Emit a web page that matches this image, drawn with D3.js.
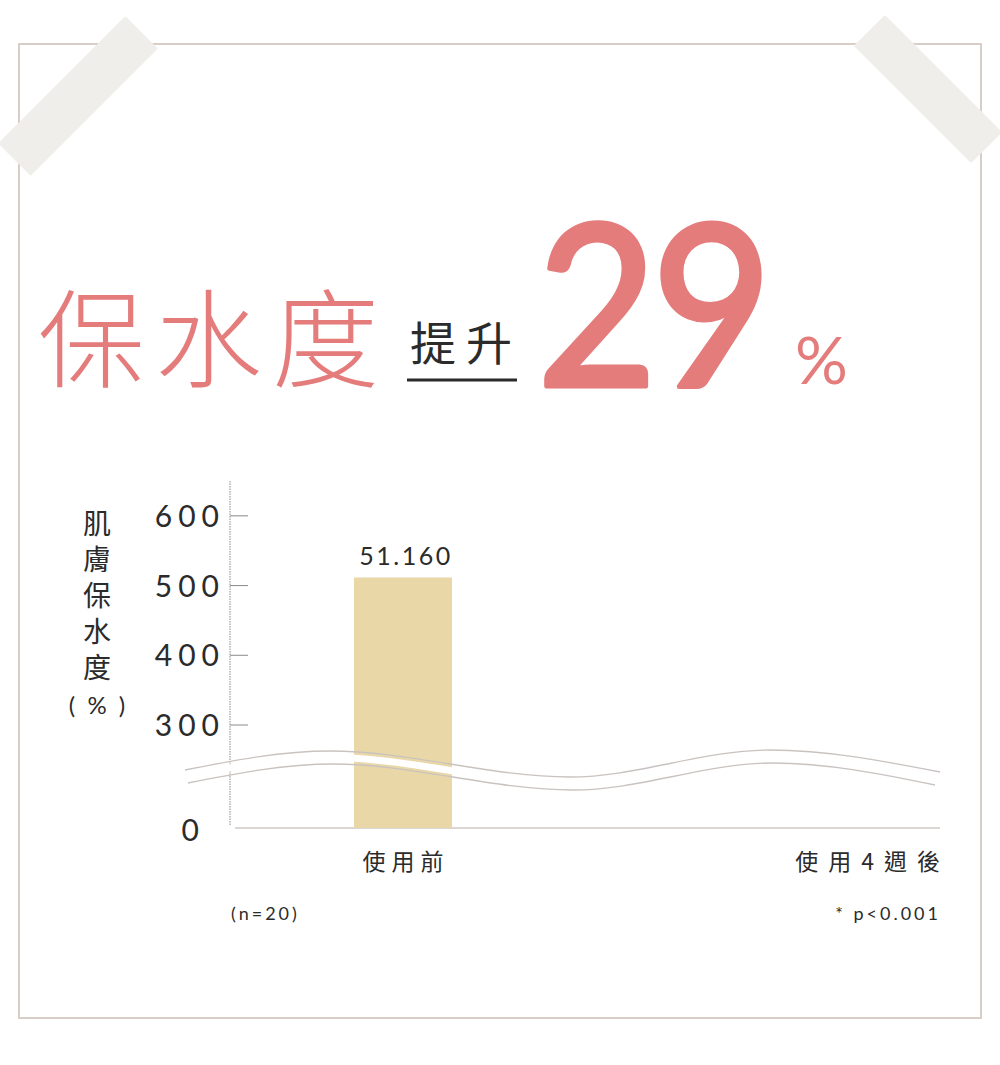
<!DOCTYPE html>
<html><head><meta charset="utf-8">
<script src="https://cdn.jsdelivr.net/npm/d3@7"></script>
<style>
html,body{margin:0;padding:0;background:#fff;}
svg{display:block;}
</style></head>
<body>
<svg id="c" width="1000" height="1065"></svg>
<script>
// ---- data ----
const categories = ["使用前", "使用4週後"];
const values = [511.6, null];
const valueLabels = ["51.160", ""];
const yTicks = [300, 400, 500, 600];
const yTickLabels = ["300", "400", "500", "600"];
const zeroLabel = "0";
const titleMain = "保水度";
const titleSub = "提升";
const titleNum = "29";
const titleUnit = "%";
const yTitle = "肌膚保水度";
const yTitleUnit = ["(", "%", ")"];
const noteLeft = "(n=20)";
const noteRight = "* p<0.001";

const svg = d3.select("#c");
const CJK = "'Noto Sans CJK TC','Noto Sans CJK JP',sans-serif";
const NUM = "Lato,'Noto Sans',sans-serif";
const pink = "#e57c7c";
const ink = "#2b2b2b";

// frame
svg.append("rect").attr("x",19).attr("y",44).attr("width",962).attr("height",974)
  .attr("fill","#fff").attr("stroke","#d9cdc7").attr("stroke-width",2);

// tapes
function tape(cx, cy, len, wid, angle){
  svg.append("rect").attr("x",-len/2).attr("y",-wid/2).attr("width",len).attr("height",wid)
    .attr("fill","#efeeea").attr("rx",2)
    .attr("transform",`translate(${cx},${cy}) rotate(${angle})`);
}
tape(78, 96, 180, 46, -45);
tape(928, 89, 166, 44, 45);

// title
svg.append("text").attr("x",38).attr("y",379).attr("font-family",CJK).attr("font-weight",300)
  .attr("font-size",107).attr("fill",pink).attr("letter-spacing",10).text(titleMain);
svg.append("text").attr("x",410).attr("y",360).attr("font-family",CJK).attr("font-weight",400)
  .attr("font-size",46).attr("fill",ink).attr("letter-spacing",10).text(titleSub);
svg.append("line").attr("x1",407).attr("x2",517).attr("y1",380).attr("y2",380)
  .attr("stroke",ink).attr("stroke-width",3);
svg.append("text").attr("x",-9).attr("y",0).attr("font-family",NUM).attr("font-weight",400)
  .attr("font-size",226).attr("fill",pink).attr("stroke",pink).attr("stroke-width",5)
  .attr("stroke-linejoin","round").attr("letter-spacing",-6)
  .attr("transform","translate(545,386) scale(0.92,1)").text(titleNum);
svg.append("text").attr("x",795).attr("y",384).attr("font-family",NUM).attr("font-weight",400)
  .attr("font-size",66).attr("fill",pink).text(titleUnit);

// scales
const y = d3.scaleLinear().domain([0, 300, 650]).range([828, 725, 481]);
const x = d3.scalePoint().domain(categories).range([403, 866]);
const barW = 98;
const axisX = 230;

// y axis line
svg.append("line").attr("x1",axisX).attr("x2",axisX).attr("y1",y(650)).attr("y2",y(0)-2)
  .attr("stroke","#8a8a8a").attr("stroke-width",1).attr("stroke-dasharray","1.5,1");
// x axis line
svg.append("line").attr("x1",235).attr("x2",940).attr("y1",y(0)).attr("y2",y(0))
  .attr("stroke","#b5aeaa").attr("stroke-width",1.2);

// ticks
svg.selectAll(".tk").data(yTicks).enter().append("line")
  .attr("x1",axisX).attr("x2",axisX+18).attr("y1",d=>y(d)).attr("y2",d=>y(d))
  .attr("stroke","#8a8a8a").attr("stroke-width",1);
svg.selectAll(".tl").data(yTicks).enter().append("text")
  .attr("x",225).attr("y",d=>y(d)+11).attr("text-anchor","end")
  .attr("font-family",NUM).attr("font-weight",400).attr("font-size",30)
  .attr("letter-spacing",6).attr("fill",ink).text((d,i)=>yTickLabels[i]);
svg.append("text").attr("x",199).attr("y",y(0)+13).attr("text-anchor","end")
  .attr("font-family",NUM).attr("font-weight",400).attr("font-size",30).attr("fill",ink).text(zeroLabel);

// y title (vertical)
svg.append("text").attr("x",97).attr("y",509)
  .attr("style","writing-mode:vertical-rl;")
  .attr("font-family",CJK).attr("font-size",28).attr("letter-spacing",8).attr("fill",ink).text(yTitle);
svg.selectAll(".yu").data(yTitleUnit).enter().append("text")
  .attr("x",(d,i)=>[72,97,122][i]).attr("y",714).attr("text-anchor","middle")
  .attr("font-family",NUM).attr("font-size",24).attr("fill",ink).text(d=>d);

// bars
const barData = categories.map((c,i)=>({c, v:values[i], lab:valueLabels[i]})).filter(d=>d.v!=null);
svg.selectAll(".bar").data(barData).enter().append("rect")
  .attr("x",d=>x(d.c)-barW/2).attr("width",barW)
  .attr("y",d=>y(d.v)).attr("height",d=>y(0)-y(d.v))
  .attr("fill","#e9d7a7");
svg.selectAll(".bl").data(barData).enter().append("text")
  .attr("x",d=>x(d.c)+3).attr("y",d=>y(d.v)-12).attr("text-anchor","middle")
  .attr("font-family",NUM).attr("font-weight",400).attr("font-size",25)
  .attr("letter-spacing",2.5).attr("fill",ink).text(d=>d.lab);

// break waves
const wavePts = [[185,770],[330,751],[570,777],[770,750],[940,772]];
const wave2Pts = wavePts.map(p=>[p[0]+3,p[1]+13]);
wave2Pts[wave2Pts.length-1][0] = 935;
const lineGen = d3.line().curve(d3.curveMonotoneX);
const area = d3.area().curve(d3.curveMonotoneX)
  .x(d=>d[0]).y0(d=>d[1]+3).y1(d=>d[1]+10);
svg.append("path").attr("d",area(wavePts)).attr("fill","#fff");
svg.append("path").attr("d",lineGen(wavePts)).attr("fill","none").attr("stroke","#c9c3c0").attr("stroke-width",1.3);
svg.append("path").attr("d",lineGen(wave2Pts)).attr("fill","none").attr("stroke","#c9c3c0").attr("stroke-width",1.3);

// x labels
svg.append("text").attr("x",x(categories[0])+3).attr("y",870).attr("text-anchor","middle")
  .attr("font-family",CJK).attr("font-size",23).attr("letter-spacing",6).attr("fill",ink).text(categories[0]);
svg.append("text").attr("x",950).attr("y",870).attr("text-anchor","end")
  .attr("font-family",CJK).attr("font-size",23).attr("letter-spacing",10).attr("fill",ink).text(categories[1]);

// notes
svg.append("text").attr("x",231).attr("y",920).attr("font-family",NUM).attr("font-weight",400)
  .attr("font-size",18).attr("letter-spacing",3).attr("fill",ink).text(noteLeft);
svg.append("text").attr("x",941).attr("y",920).attr("text-anchor","end").attr("font-family",NUM).attr("font-weight",400)
  .attr("font-size",18).attr("letter-spacing",3).attr("fill",ink).text(noteRight);
</script>
</body></html>
